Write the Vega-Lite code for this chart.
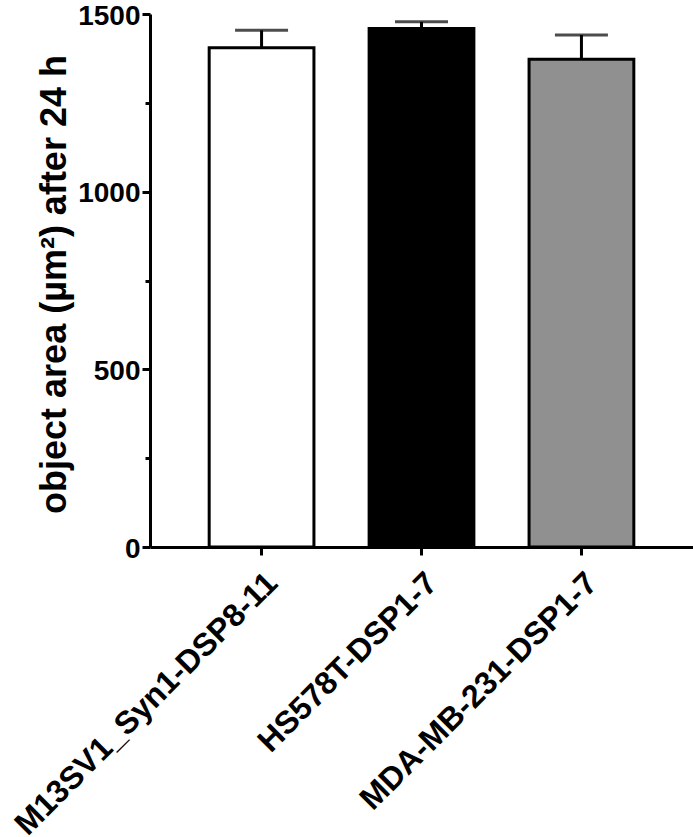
{
  "$schema": "https://vega.github.io/schema/vega-lite/v6.json",
  "autosize": "none",
  "width": 543,
  "height": 533,
  "padding": {"left": 150, "top": 14, "right": 0, "bottom": 290},
  "background": "white",
  "config": {
    "view": {"stroke": null},
    "font": "Liberation Sans",
    "axis": {"grid": false, "domainColor": "black", "tickColor": "black", "labelColor": "black", "titleColor": "black", "domainWidth": 3, "tickWidth": 3}
  },
  "data": {
    "values": [
      {"cell": "M13SV1_Syn1-DSP8-11", "mean": 1405, "upper": 1454},
      {"cell": "HS578T-DSP1-7", "mean": 1459, "upper": 1478},
      {"cell": "MDA-MB-231-DSP1-7", "mean": 1373, "upper": 1441}
    ]
  },
  "encoding": {
    "x": {
      "field": "cell", "type": "nominal", "sort": null,
      "scale": {"paddingInner": 0.345, "paddingOuter": 0.37},
      "axis": {"title": null, "labelAngle": -45, "labelFontSize": 32, "labelFontWeight": "bold", "labelPadding": 12, "tickSize": 8, "labelLimit": 600}
    }
  },
  "layer": [
    {
      "mark": {"type": "rule", "strokeWidth": 3, "color": "black"},
      "encoding": {
        "y": {"field": "mean", "type": "quantitative"},
        "y2": {"field": "upper"}
      }
    },
    {
      "mark": {"type": "tick", "thickness": 3, "size": 53, "color": "black", "orient": "horizontal"},
      "encoding": {
        "y": {"field": "upper", "type": "quantitative"}
      }
    },
    {
      "mark": {"type": "bar", "stroke": "black", "strokeWidth": 3},
      "encoding": {
        "y": {
          "field": "mean", "type": "quantitative",
          "scale": {"domain": [0, 1500], "nice": false},
          "axis": {
            "title": "object area (µm²) after 24 h",
            "titleFontSize": 36, "titleFontWeight": "bold", "titlePadding": 4, "titleY": 270,
            "values": [0, 250, 500, 750, 1000, 1250, 1500],
            "labelExpr": "datum.value % 500 === 0 ? datum.label : ''",
            "format": "d",
            "labelFontSize": 28, "labelFontWeight": "bold", "labelPadding": 2, "labelOffset": 2,
            "tickSize": {"condition": {"test": "datum.value % 500 === 0", "value": 8}, "value": 5}
          }
        },
        "fill": {
          "field": "cell", "type": "nominal", "sort": null,
          "scale": {"range": ["#ffffff", "#000000", "#909090"]},
          "legend": null
        }
      }
    }
  ]
}
